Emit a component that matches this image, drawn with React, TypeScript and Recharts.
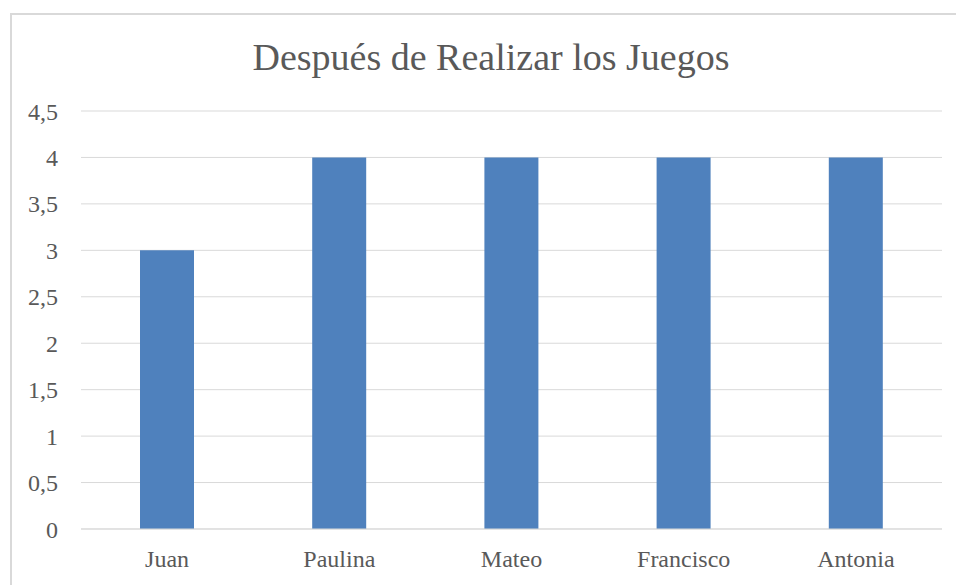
import React from 'react';
import { BarChart, Bar, XAxis, YAxis, CartesianGrid } from 'recharts';

const categories = ['Juan', 'Paulina', 'Mateo', 'Francisco', 'Antonia'];
const values = [3, 4, 4, 4, 4];
const yTicks = [0, 0.5, 1, 1.5, 2, 2.5, 3, 3.5, 4, 4.5];
const title = 'Después de Realizar los Juegos';

const data = categories.map((name, i) => ({ name, value: values[i] }));

const FONT = '"Liberation Serif", "Times New Roman", serif';
const TEXT = '#595959';

export default function App() {
  return (
    <div style={{ position: 'absolute', left: 0, top: 0, width: 956, height: 585, overflow: 'hidden', background: '#fff' }}>
      <div
        style={{
          position: 'absolute',
          left: 10,
          top: 13,
          width: 980,
          height: 620,
          border: '2px solid #d9d9d9',
          boxSizing: 'border-box',
        }}
      />
      <div
        style={{
          position: 'absolute',
          left: 0,
          top: 38,
          width: 982,
          textAlign: 'center',
          fontFamily: FONT,
          fontSize: 38,
          lineHeight: '38px',
          color: TEXT,
          whiteSpace: 'nowrap',
        }}
      >
        {title}
      </div>
      <div style={{ position: 'absolute', left: 0, top: 0 }}>
        <BarChart
          width={956}
          height={585}
          data={data}
          margin={{ top: 111, right: 14, bottom: 26, left: 21 }}
          barSize={54}
        >
          <CartesianGrid vertical={false} stroke="#d9d9d9" strokeWidth={1} />
          <XAxis
            dataKey="name"
            axisLine={{ stroke: '#d9d9d9', strokeWidth: 1 }}
            tickLine={false}
            tickMargin={15}
            height={30}
            tick={{ fill: TEXT, fontFamily: FONT, fontSize: 24 }}
            interval={0}
          />
          <YAxis
            domain={[0, 4.5]}
            ticks={yTicks}
            width={60}
            axisLine={false}
            tickLine={false}
            tickMargin={17}
            interval={0}
            tick={{ fill: TEXT, fontFamily: FONT, fontSize: 24 }}
            tickFormatter={(v: number) => String(v).replace('.', ',')}
          />
          <Bar dataKey="value" fill="#4f81bd" isAnimationActive={false} />
        </BarChart>
      </div>
    </div>
  );
}
